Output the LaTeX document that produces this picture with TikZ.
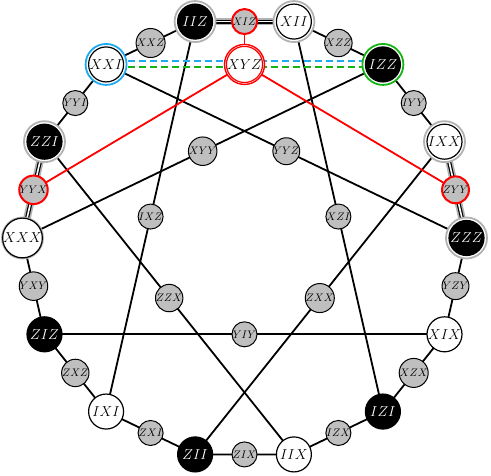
\documentclass[tikz,border=0pt]{standalone}
\usetikzlibrary{calc}
\pgfdeclarelayer{bg}
\pgfdeclarelayer{mid}
\pgfsetlayers{bg,mid,main}
\definecolor{cyanline}{RGB}{30,170,240}
\definecolor{greenline}{RGB}{20,180,20}
\begin{document}
\begin{tikzpicture}[x=1pt,y=1pt,
  big/.style={circle,draw=black,line width=1.2pt,minimum size=35pt,inner sep=0pt,font=\fontsize{15.5}{15.5}\selectfont},
  bnode/.style={big,fill=black,text=white},
  wnode/.style={big,fill=white},
  small/.style={circle,draw=black,line width=1pt,fill=black!25,minimum size=25pt,inner sep=0pt,font=\fontsize{10.5}{10.5}\selectfont},
  redsmall/.style={small,draw=red,line width=2pt},
  ring/.style={circle,draw=#1,line width=1.8pt,fill=white,minimum size=41pt,inner sep=0pt},
  edge/.style={line width=1.8pt},
  redge/.style={draw=red,line width=1.8pt},
  halo/.style={draw=black!30,line width=7.5pt},
  dbl/.style={draw=black,line width=1.2pt,double=white,double distance=1.6pt},
  dashc/.style={line width=2pt,dash pattern=on 7pt off 4pt},
]
\useasboundingbox (0,0) rectangle (491,476);
\coordinate (C) at (244.5,238);
% big nodes on the ring
\node[bnode] (IIZ) at ($(C)+(102.857:222)$) {$IIZ$};
\node[wnode] (XII) at ($(C)+(77.143:222)$) {$XII$};
\node[bnode] (IZZ) at ($(C)+(51.429:222)$) {$IZZ$};
\node[wnode] (IXX) at ($(C)+(25.714:222)$) {$IXX$};
\node[bnode] (ZZZ) at ($(C)+(0:222)$) {$ZZZ$};
\node[wnode] (XIX) at ($(C)+(-25.714:222)$) {$XIX$};
\node[bnode] (IZI) at ($(C)+(-51.429:222)$) {$IZI$};
\node[wnode] (IIX) at ($(C)+(-77.143:222)$) {$IIX$};
\node[bnode] (ZII) at ($(C)+(-102.857:222)$) {$ZII$};
\node[wnode] (IXI) at ($(C)+(-128.571:222)$) {$IXI$};
\node[bnode] (ZIZ) at ($(C)+(-154.286:222)$) {$ZIZ$};
\node[wnode] (XXX) at ($(C)+(180:222)$) {$XXX$};
\node[bnode] (ZZI) at ($(C)+(154.286:222)$) {$ZZI$};
\node[wnode] (XXI) at ($(C)+(128.571:222)$) {$XXI$};
\node[wnode,draw=red,minimum size=33pt] (XYZ) at ($(XXI)!0.5!(IZZ)$) {$XYZ$};
% rings
\begin{pgfonlayer}{mid}
\node[ring=black!30] at (IIZ) {};
\node[ring=black!30] at (XII) {};
\node[ring=black!30] at (IXX) {};
\node[ring=black!30] at (ZZZ) {};
\node[ring=black!30] at (XXX) {};
\node[ring=black!30] at (ZZI) {};
\node[ring=cyanline] at (XXI) {};
\node[ring=greenline] at (IZZ) {};
\node[ring=red,line width=1.4pt,minimum size=40pt] at (XYZ) {};
\end{pgfonlayer}
% small nodes on the ring
\node[redsmall] (XIZ) at ($(IIZ)!0.5!(XII)$) {$XIZ$};
\node[small] (XZZ) at ($(XII)!0.5!(IZZ)$) {$XZZ$};
\node[small] (IYY) at ($(IZZ)!0.5!(IXX)$) {$IYY$};
\node[redsmall] (ZYY) at ($(IXX)!0.5!(ZZZ)$) {$ZYY$};
\node[small] (YZY) at ($(ZZZ)!0.5!(XIX)$) {$YZY$};
\node[small] (XZX) at ($(XIX)!0.5!(IZI)$) {$XZX$};
\node[small] (IZX) at ($(IZI)!0.5!(IIX)$) {$IZX$};
\node[small] (ZIX) at ($(IIX)!0.5!(ZII)$) {$ZIX$};
\node[small] (ZXI) at ($(ZII)!0.5!(IXI)$) {$ZXI$};
\node[small] (ZXZ) at ($(IXI)!0.5!(ZIZ)$) {$ZXZ$};
\node[small] (YXY) at ($(ZIZ)!0.5!(XXX)$) {$YXY$};
\node[redsmall] (YYX) at ($(XXX)!0.5!(ZZI)$) {$YYX$};
\node[small] (YYI) at ($(ZZI)!0.5!(XXI)$) {$YYI$};
\node[small] (XXZ) at ($(XXI)!0.5!(IIZ)$) {$XXZ$};
% small nodes on chords
\node[small] (YYZ) at ($(XXI)!0.5!(ZZZ)$) {$YYZ$};
\node[small] (XYY) at ($(IZZ)!0.5!(XXX)$) {$XYY$};
\node[small] (IXZ) at ($(IIZ)!0.5!(IXI)$) {$IXZ$};
\node[small] (XZI) at ($(XII)!0.5!(IZI)$) {$XZI$};
\node[small] (ZZX) at ($(ZZI)!0.5!(IIX)$) {$ZZX$};
\node[small] (ZXX) at ($(IXX)!0.5!(ZII)$) {$ZXX$};
\node[small] (YIY) at ($(ZIZ)!0.5!(XIX)$) {$YIY$};
% edges
\begin{pgfonlayer}{bg}
\draw[edge] (XII.center) -- (XZZ.center) -- (IZZ.center) -- (IYY.center) -- (IXX.center);
\draw[edge] (ZZZ.center) -- (YZY.center) -- (XIX.center) -- (XZX.center) -- (IZI.center)
  -- (IZX.center) -- (IIX.center) -- (ZIX.center) -- (ZII.center) -- (ZXI.center)
  -- (IXI.center) -- (ZXZ.center) -- (ZIZ.center) -- (YXY.center) -- (XXX.center);
\draw[edge] (ZZI.center) -- (YYI.center) -- (XXI.center) -- (XXZ.center) -- (IIZ.center);
\draw[halo] (IIZ.center) -- (XIZ.center) -- (XII.center);
\draw[dbl] (IIZ.center) -- (XIZ.center) -- (XII.center);
\draw[halo] (ZZI.center) -- (YYX.center) -- (XXX.center);
\draw[dbl] (ZZI.center) -- (YYX.center) -- (XXX.center);
\draw[halo] (IXX.center) -- (ZYY.center) -- (ZZZ.center);
\draw[dbl] (IXX.center) -- (ZYY.center) -- (ZZZ.center);
\draw[edge] (XXI.center) -- (YYZ.center) -- (ZZZ.center);
\draw[edge] (IZZ.center) -- (XYY.center) -- (XXX.center);
\draw[edge] (IIZ.center) -- (IXZ.center) -- (IXI.center);
\draw[edge] (XII.center) -- (XZI.center) -- (IZI.center);
\draw[edge] (ZZI.center) -- (ZZX.center) -- (IIX.center);
\draw[edge] (IXX.center) -- (ZXX.center) -- (ZII.center);
\draw[edge] (ZIZ.center) -- (YIY.center) -- (XIX.center);
\draw[redge] (XYZ.center) -- (YYX.center);
\draw[redge] (XYZ.center) -- (ZYY.center);
\draw[redge] (XYZ.center) -- (XIZ.center);
\draw[dashc,draw=cyanline] ($(XXI.center)+(0,3)$) -- ($(IZZ.center)+(0,3)$);
\draw[dashc,draw=greenline] ($(XXI.center)+(0,-3)$) -- ($(IZZ.center)+(0,-3)$);
\end{pgfonlayer}
\end{tikzpicture}
\end{document}
